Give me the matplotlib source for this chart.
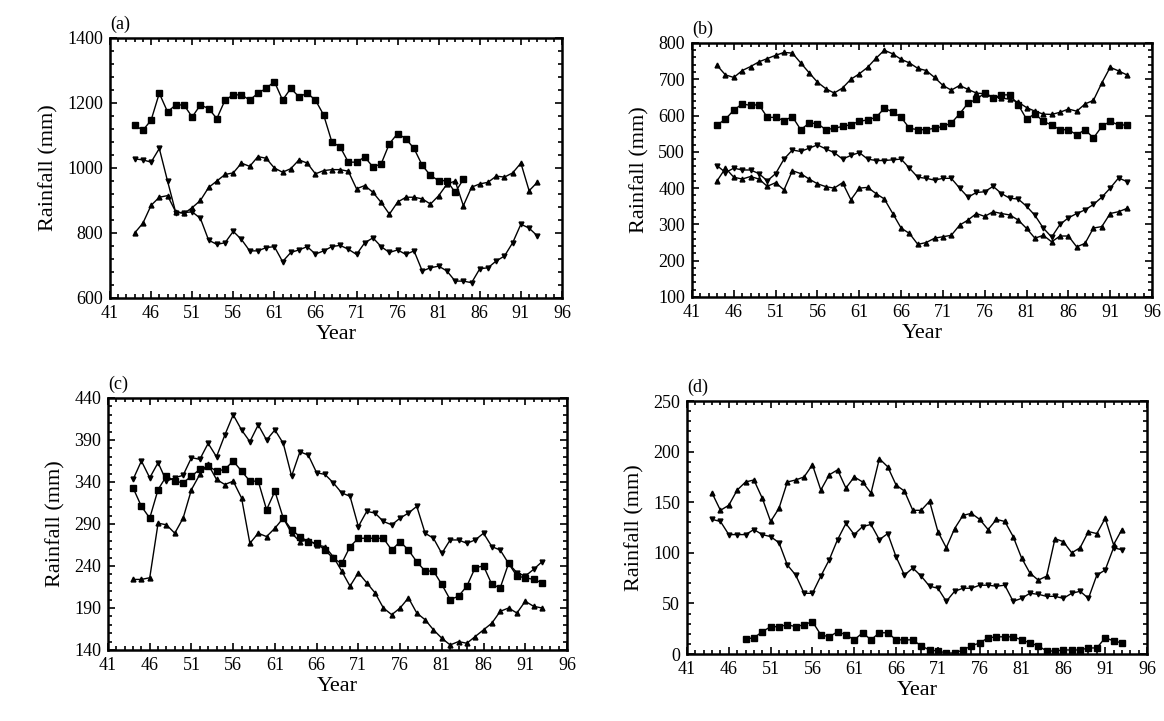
import numpy as np
import matplotlib
matplotlib.use("Agg")
from matplotlib import pyplot as plt
from matplotlib.ticker import MultipleLocator

plt.rcParams['font.family'] = ['Liberation Serif', 'DejaVu Serif']

# years of the running series
years = list(range(44, 94))
years_d_sq = list(range(48, 94))
a_sq_years = list(range(44, 85))

# panel (a)
a_sq = [1132, 1116, 1147, 1230, 1173, 1194, 1194, 1157, 1194, 1183, 1152, 1209, 1225, 1225,
        1209, 1230, 1245, 1266, 1209, 1245, 1219, 1230, 1209, 1163, 1080, 1065, 1018, 1018,
        1034, 1003, 1013, 1075, 1106, 1090, 1060, 1008, 977, 961, 961, 925, 965]
a_up = [800, 830, 885, 910, 915, 865, 860, 878, 900, 940, 960, 980, 985, 1015, 1005, 1035,
        1030, 1000, 987, 998, 1025, 1015, 982, 992, 995, 995, 990, 936, 946, 925, 894, 858,
        895, 910, 910, 905, 889, 915, 950, 960, 884, 941, 951, 956, 975, 972, 985, 1015, 930, 956]
a_dn = [1028, 1025, 1018, 1060, 960, 863, 863, 865, 845, 778, 765, 770, 805, 780, 745, 745,
        755, 758, 712, 740, 748, 758, 735, 745, 758, 762, 750, 734, 770, 785, 758, 740, 748,
        734, 745, 683, 693, 698, 683, 652, 652, 647, 690, 693, 714, 729, 770, 827, 815, 791]

# panel (b)
b_up = [738, 712, 705, 724, 735, 748, 757, 766, 774, 772, 745, 718, 692, 674, 662, 676, 700,
        715, 733, 758, 780, 770, 755, 745, 730, 724, 705, 683, 670, 683, 672, 662, 660, 652,
        648, 645, 637, 622, 612, 604, 603, 609, 618, 612, 632, 642, 690, 733, 723, 712]
b_sq = [574, 590, 615, 632, 628, 630, 595, 595, 586, 597, 561, 579, 578, 561, 565, 570, 575,
        584, 588, 595, 620, 610, 595, 565, 561, 561, 565, 570, 579, 605, 634, 645, 662, 648,
        657, 657, 630, 590, 605, 584, 574, 561, 561, 547, 561, 538, 570, 584, 574, 574]
b_dn = [462, 443, 455, 450, 450, 440, 420, 440, 480, 505, 501, 510, 519, 508, 498, 480, 490,
        498, 480, 476, 476, 478, 480, 455, 430, 427, 422, 427, 427, 400, 375, 388, 390, 405,
        385, 372, 370, 350, 325, 290, 265, 300, 318, 330, 340, 355, 375, 400, 428, 418]
b_lo = [420, 455, 430, 425, 432, 425, 405, 415, 395, 448, 440, 425, 412, 404, 400, 415, 368,
        400, 402, 385, 370, 330, 290, 275, 245, 250, 262, 266, 270, 298, 312, 330, 322, 335,
        330, 326, 312, 289, 262, 270, 252, 268, 268, 238, 248, 290, 294, 330, 335, 344]

# panel (c)
c_dn = [343, 365, 345, 363, 341, 345, 348, 369, 367, 386, 370, 396, 420, 402, 388, 408, 390,
        402, 386, 347, 376, 372, 351, 349, 339, 327, 323, 287, 305, 303, 293, 289, 297, 303,
        311, 279, 273, 255, 271, 271, 267, 271, 279, 263, 259, 243, 232, 228, 236, 245]
c_sq = [333, 311, 297, 331, 347, 341, 339, 347, 355, 359, 353, 355, 365, 353, 341, 341, 307,
        329, 297, 283, 275, 269, 267, 259, 249, 243, 263, 273, 273, 273, 273, 259, 269, 259,
        245, 234, 234, 218, 200, 204, 216, 238, 240, 218, 214, 243, 228, 226, 224, 220]
c_up = [224, 224, 226, 291, 289, 279, 297, 331, 349, 361, 343, 337, 341, 321, 267, 279, 275,
        285, 297, 279, 269, 271, 265, 263, 251, 234, 216, 232, 220, 208, 190, 182, 190, 202,
        184, 176, 164, 154, 146, 150, 148, 156, 164, 172, 186, 190, 184, 198, 192, 190]

# panel (d)
d_up = [159, 142, 147, 162, 170, 172, 154, 131, 144, 170, 172, 175, 187, 162, 177, 182, 164,
        175, 170, 159, 193, 185, 167, 161, 142, 142, 151, 121, 105, 124, 137, 139, 133, 123,
        133, 131, 116, 95, 80, 73, 77, 114, 111, 100, 105, 121, 119, 134, 108, 123]
d_dn = [133, 131, 118, 118, 118, 123, 118, 116, 110, 88, 78, 60, 60, 77, 93, 113, 129, 118,
        126, 128, 113, 119, 96, 78, 85, 77, 67, 65, 52, 62, 65, 65, 68, 68, 67, 68, 52, 55,
        60, 59, 57, 57, 55, 60, 62, 55, 78, 83, 105, 103]
d_sq = [15, 16, 22, 27, 27, 29, 27, 29, 32, 19, 17, 22, 19, 14, 21, 14, 21, 21, 14, 14, 14,
        8, 4, 3, 1, 1, 4, 8, 11, 16, 17, 17, 17, 14, 11, 8, 3, 3, 4, 4, 4, 6, 6, 16, 13, 11]

x_ticks = list(range(41, 97, 5))
a_yticks = list(range(600, 1401, 200))
b_yticks = list(range(100, 801, 100))
c_yticks = list(range(140, 441, 50))
d_yticks = list(range(0, 251, 50))

fig = plt.figure(figsize=(11.64, 7.21), dpi=100)

panels = [
    ([0.0945, 0.5867, 0.3883, 0.3606], '(a)', a_yticks, 40,
     [(a_sq_years, a_sq, 's'), (years, a_up, '^'), (years, a_dn, 'v')]),
    ([0.5945, 0.5881, 0.3952, 0.3523], '(b)', b_yticks, 20,
     [(years, b_up, '^'), (years, b_sq, 's'), (years, b_dn, 'v'), (years, b_lo, '^')]),
    ([0.0928, 0.0985, 0.3943, 0.3495], '(c)', c_yticks, 10,
     [(years, c_dn, 'v'), (years, c_sq, 's'), (years, c_up, '^')]),
    ([0.5902, 0.0929, 0.3952, 0.3509], '(d)', d_yticks, 10,
     [(years, d_up, '^'), (years, d_dn, 'v'), (years_d_sq, d_sq, 's')]),
]

for rect, tag, yt, ymin, series in panels:
    ax = fig.add_axes(rect)
    for xs, ys, m in series:
        if m == 's':
            ax.plot(xs, ys, color='black', lw=1.0, marker='s', ms=4.5, mfc='black', mec='black')
        else:
            ax.plot(xs, ys, color='black', lw=1.0, marker=m, ms=3.5, mfc='black', mec='black')
    ax.set_xlim(41, 96)
    ax.set_ylim(yt[0], yt[-1])
    ax.set_xticks(x_ticks)
    ax.set_yticks(yt)
    ax.xaxis.set_minor_locator(MultipleLocator(1))
    ax.yaxis.set_minor_locator(MultipleLocator(ymin))
    ax.tick_params(which='both', direction='in', top=True, right=True, labelsize=13, width=1.2)
    ax.tick_params(which='major', length=5, pad=5)
    ax.tick_params(which='minor', length=3)
    for s in ax.spines.values():
        s.set_linewidth(1.8)
    ax.set_xlabel('Year', fontsize=16, labelpad=2)
    ax.set_ylabel('Rainfall (mm)', fontsize=16, labelpad=6)
    ax.text(0.0, 1.02, tag, transform=ax.transAxes, fontsize=13, ha='left', va='bottom')

fig.savefig('out.png', dpi=100)
